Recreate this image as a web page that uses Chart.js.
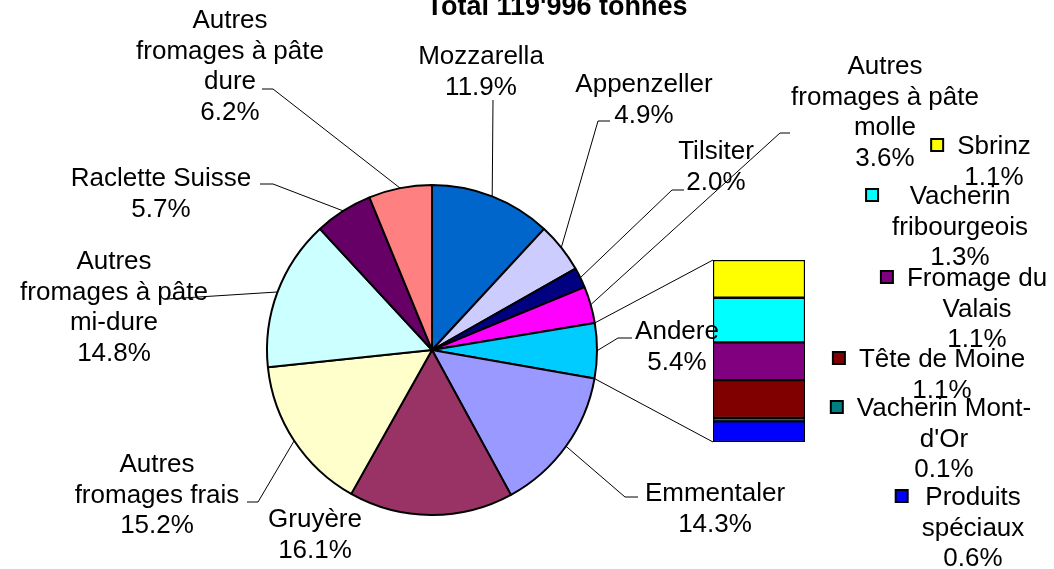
<!DOCTYPE html>
<html lang="fr">
<head>
<meta charset="utf-8">
<title>Fromages - Total 119'996 tonnes</title>
<script src="https://cdn.jsdelivr.net/npm/chart.js@4"></script>
<style>
  html, body { margin: 0; padding: 0; background: #fff; }
  #wrap { position: relative; width: 1054px; height: 569px; overflow: hidden; }
  #barChart { position: absolute; left: 711px; top: 258px; z-index: 0; }
  #pieChart { position: absolute; left: 0; top: 0; z-index: 1; pointer-events: none; }
</style>
</head>
<body>
<div id="wrap">
  <canvas id="barChart" width="96" height="186"></canvas>
  <canvas id="pieChart" width="1054" height="569"></canvas>
</div>
<script>
(() => {
    const titleText = "Total 119'996 tonnes";

    // Camembert (sens horaire depuis midi)
    const pieLabels = [
        'Mozzarella', 'Appenzeller', 'Tilsiter', 'Autres\nfromages à pâte\nmolle', 'Andere',
        'Emmentaler', 'Gruyère', 'Autres\nfromages frais', 'Autres\nfromages à pâte\nmi-dure',
        'Raclette Suisse', 'Autres\nfromages à pâte\ndure'
    ];
    const pieValues = [11.9, 4.9, 2.0, 3.6, 5.4, 14.3, 16.1, 15.2, 14.8, 5.7, 6.2];
    const pieColors = [
        '#0066CC', '#CCCCFF', '#000080', '#FF00FF', '#00CCFF',
        '#9999FF', '#993366', '#FFFFCC', '#CCFFFF', '#660066', '#FF8080'
    ];

    // Détail de "Andere" (de haut en bas)
    const barLabels = ['Sbrinz', 'Vacherin\nfribourgeois', 'Fromage du\nValais', 'Tête de Moine', "Vacherin Mont-\nd'Or", 'Produits\nspéciaux'];
    const barValues = [1.1, 1.3, 1.1, 1.1, 0.1, 0.6];
    const barColors = ['#FFFF00', '#00FFFF', '#800080', '#800000', '#008080', '#0000FF'];

    const FONT = '26px "Liberation Sans", Arial, sans-serif';
    const LINE_H = 30.5;
    const BAR_LEFT = 711, BAR_TOP = 258;   // position du canvas de la barre

    // placement des étiquettes : centre x, ligne de base de la 1re ligne, coude + fin du trait
    const pieLabelPos = [
        { x: 481, y: 64,  elbow: [493, 100], end: [493, 100] },
        { x: 644, y: 92,  elbow: [598, 121], end: [610, 121] },
        { x: 716, y: 159, elbow: [672, 190], end: [684, 190] },
        { x: 885, y: 74,  elbow: [780, 133], end: [790, 133] },
        { x: 677, y: 339, elbow: [618, 338], end: [632, 338] },
        { x: 715, y: 501, elbow: [625, 497], end: [638, 497] },
        { x: 315, y: 527, elbow: null },
        { x: 157, y: 472, elbow: [258, 502], end: [247, 502] },
        { x: 114, y: 269, elbow: [167, 299], end: [167, 299] },
        { x: 161, y: 186, elbow: [273, 184], end: [260, 184] },
        { x: 230, y: 28,  elbow: [273, 89],  end: [262, 89] }
    ];
    const barLabelPos = [
        { x: 994, y: 154 },
        { x: 960, y: 204 },
        { x: 977, y: 286 },
        { x: 942, y: 367 },
        { x: 944, y: 416 },
        { x: 973, y: 505 }
    ];

    const fmt = v => v.toFixed(1) + '%';
    const barTotal = barValues.reduce((a, b) => a + b, 0);

    // BARRE EMPILÉE (premier dataset = bas de la barre)
    const barDatasets = barLabels.map((label, i) => ({
        label: label,
        data: [barValues[i]],
        backgroundColor: barColors[i]
    })).reverse();

    const barChart = new Chart(document.getElementById('barChart'), {
        type: 'bar',
        data: { labels: [''], datasets: barDatasets },
        options: {
            responsive: false,
            animation: false,
            devicePixelRatio: 1,
            layout: { padding: 2 },
            plugins: { legend: { display: false }, tooltip: { enabled: false } },
            datasets: {
                bar: {
                    barPercentage: 1,
                    categoryPercentage: 1,
                    borderWidth: 1.5,
                    borderColor: '#000',
                    borderSkipped: false
                }
            },
            scales: {
                x: { display: false, stacked: true },
                y: { display: false, stacked: true, min: 0, max: barTotal }
            }
        }
    });

    function drawBlock(ctx, lines, cx, y0) {
        lines.forEach((t, k) => ctx.fillText(t, cx, y0 + k * LINE_H));
    }

    // ÉTIQUETTES, TRAITS DE RAPPEL, LIAISONS ET TITRE
    const labelsPlugin = {
        id: 'excelLabels',
        afterDraw(chart) {
            const ctx = chart.ctx;
            const arcs = chart.getDatasetMeta(0).data;
            ctx.save();
            ctx.strokeStyle = '#000';
            ctx.lineWidth = 1;

            // traits de rappel
            arcs.forEach((arc, i) => {
                const p = pieLabelPos[i];
                if (!p.elbow) return;
                const mid = (arc.startAngle + arc.endAngle) / 2;
                ctx.beginPath();
                ctx.moveTo(arc.x + Math.cos(mid) * arc.outerRadius, arc.y + Math.sin(mid) * arc.outerRadius);
                ctx.lineTo(p.elbow[0], p.elbow[1]);
                ctx.lineTo(p.end[0], p.end[1]);
                ctx.stroke();
            });

            // liaison secteur "Andere" -> barre
            const other = arcs[pieLabels.indexOf('Andere')];
            const barMeta = barChart.getDatasetMeta(barDatasets.length - 1).data[0];
            const baseMeta = barChart.getDatasetMeta(0).data[0];
            const barX = BAR_LEFT + barMeta.x - barMeta.width / 2;
            const barTopY = BAR_TOP + barMeta.y;
            const barBotY = BAR_TOP + baseMeta.base;
            ctx.beginPath();
            ctx.moveTo(other.x + Math.cos(other.startAngle) * other.outerRadius, other.y + Math.sin(other.startAngle) * other.outerRadius);
            ctx.lineTo(barX, barTopY);
            ctx.moveTo(other.x + Math.cos(other.endAngle) * other.outerRadius, other.y + Math.sin(other.endAngle) * other.outerRadius);
            ctx.lineTo(barX, barBotY);
            ctx.stroke();

            // textes du camembert
            ctx.fillStyle = '#000';
            ctx.font = FONT;
            ctx.textAlign = 'center';
            ctx.textBaseline = 'alphabetic';
            pieLabels.forEach((label, i) => {
                const p = pieLabelPos[i];
                drawBlock(ctx, label.split('\n').concat(fmt(pieValues[i])), p.x, p.y);
            });

            // textes de la barre avec repère de couleur
            barLabels.forEach((label, i) => {
                const p = barLabelPos[i];
                const lines = label.split('\n').concat(fmt(barValues[i]));
                const maxW = Math.max(...lines.map(t => ctx.measureText(t).width));
                const mx = p.x - maxW / 2 - 20;
                const my = p.y - 9;
                ctx.fillStyle = barColors[i];
                ctx.fillRect(mx - 6, my - 6, 12, 12);
                ctx.lineWidth = 2;
                ctx.strokeRect(mx - 6, my - 6, 12, 12);
                ctx.fillStyle = '#000';
                drawBlock(ctx, lines, p.x, p.y);
            });

            // titre
            ctx.font = 'bold 27px "Liberation Sans", Arial, sans-serif';
            ctx.fillText(titleText, 557, 15);
            ctx.restore();
        }
    };

    // CAMEMBERT
    new Chart(document.getElementById('pieChart'), {
        type: 'pie',
        data: {
            labels: pieLabels,
            datasets: [{
                data: pieValues,
                backgroundColor: pieColors,
                borderColor: '#000',
                borderWidth: 2
            }]
        },
        options: {
            responsive: false,
            animation: false,
            devicePixelRatio: 1,
            radius: 165,
            layout: { padding: { left: 0, right: 190, top: 131, bottom: 0 } },
            plugins: { legend: { display: false }, tooltip: { enabled: false } }
        },
        plugins: [labelsPlugin]
    });
})();
</script>
</body>
</html>
